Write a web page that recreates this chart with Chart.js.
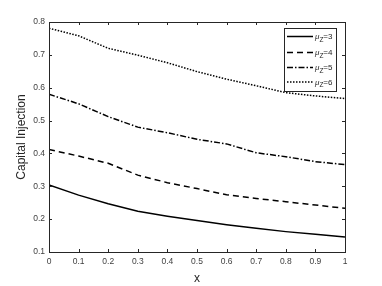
<!DOCTYPE html>
<html>
<head>
<meta charset="utf-8">
<script src="https://cdn.jsdelivr.net/npm/chart.js@4.4.0/dist/chart.umd.min.js"></script>
<style>
html,body{margin:0;padding:0;background:#fff;}
#wrap{width:382px;height:286px;}
</style>
</head>
<body>
<div id="wrap"><canvas id="c" width="382" height="286"></canvas></div>
<script>
const xValues = [0, 0.1, 0.2, 0.3, 0.4, 0.5, 0.6, 0.7, 0.8, 0.9, 1.0];
const mu3 = [0.304, 0.273, 0.247, 0.224, 0.209, 0.196, 0.183, 0.172, 0.162, 0.154, 0.146];
const mu4 = [0.412, 0.392, 0.370, 0.334, 0.311, 0.293, 0.274, 0.263, 0.253, 0.243, 0.233];
const mu5 = [0.580, 0.551, 0.512, 0.480, 0.463, 0.443, 0.429, 0.402, 0.390, 0.375, 0.366];
const mu6 = [0.781, 0.758, 0.720, 0.699, 0.676, 0.649, 0.626, 0.606, 0.585, 0.575, 0.567];
const seriesNames = ['3', '4', '5', '6'];
const dashes = [[], [6, 4], [6, 2, 1.5, 2], [1.5, 1.5]];
const xTicks = [0, 0.1, 0.2, 0.3, 0.4, 0.5, 0.6, 0.7, 0.8, 0.9, 1];
const yTicks = [0.1, 0.2, 0.3, 0.4, 0.5, 0.6, 0.7, 0.8];

const allSeries = [mu3, mu4, mu5, mu6];
const datasets = allSeries.map((s, i) => ({
  label: 'μZ=' + seriesNames[i],
  data: xValues.map((x, j) => ({x: x, y: s[j]})),
  borderColor: '#000',
  borderWidth: 1.5,
  borderDash: dashes[i],
  pointRadius: 0,
  fill: false,
  tension: 0
}));

const axisColor = '#262626';
const fontFam = '"Liberation Sans", Arial, Helvetica, sans-serif';

const boxPlugin = {
  id: 'box',
  afterDraw(chart) {
    const ctx = chart.ctx;
    const a = chart.chartArea;
    const xs = chart.scales.x, ys = chart.scales.y;
    ctx.save();
    ctx.strokeStyle = axisColor;
    ctx.lineWidth = 1;
    ctx.setLineDash([]);
    ctx.strokeRect(Math.round(a.left) + 0.5, Math.round(a.top) + 0.5, Math.round(a.right - a.left), Math.round(a.bottom - a.top));
    const tl = 3;
    ctx.beginPath();
    xTicks.forEach(v => {
      const px = Math.round(xs.getPixelForValue(v)) + 0.5;
      ctx.moveTo(px, a.bottom); ctx.lineTo(px, a.bottom - tl);
      ctx.moveTo(px, a.top); ctx.lineTo(px, a.top + tl);
    });
    yTicks.forEach(v => {
      const py = Math.round(ys.getPixelForValue(v)) + 0.5;
      ctx.moveTo(a.left, py); ctx.lineTo(a.left + tl, py);
      ctx.moveTo(a.right, py); ctx.lineTo(a.right - tl, py);
    });
    ctx.stroke();

    // legend
    const lx = 284, ly = 28, lw = 52, lh = 63;
    ctx.fillStyle = '#fff';
    ctx.fillRect(lx, ly, lw, lh);
    ctx.strokeStyle = axisColor;
    ctx.strokeRect(lx + 0.5, ly + 0.5, lw, lh);
    const rowY = [36.5, 52.5, 67.5, 82];
    seriesNames.forEach((n, i) => {
      const y = rowY[i];
      ctx.beginPath();
      ctx.strokeStyle = '#000';
      ctx.lineWidth = 1.5;
      ctx.setLineDash(dashes[i]);
      ctx.moveTo(287, y); ctx.lineTo(313, y);
      ctx.stroke();
      ctx.setLineDash([]);
      ctx.fillStyle = axisColor;
      ctx.textBaseline = 'alphabetic';
      ctx.textAlign = 'left';
      ctx.font = 'italic 8px ' + fontFam;
      ctx.fillText('μ', 315, y + 2.5);
      const w1 = ctx.measureText('μ').width;
      ctx.font = '6.5px ' + fontFam;
      ctx.fillText('Z', 315 + w1, y + 5);
      const w2 = ctx.measureText('Z').width;
      ctx.font = '8px ' + fontFam;
      ctx.fillText('=' + n, 315 + w1 + w2, y + 2.5);
    });
    ctx.restore();
  }
};

new Chart(document.getElementById('c'), {
  type: 'line',
  data: { datasets },
  options: {
    responsive: false,
    animation: false,
    devicePixelRatio: 1,
    layout: { padding: { left: 0, right: 37, top: 22, bottom: 0 } },
    plugins: { legend: { display: false }, tooltip: { enabled: false } },
    scales: {
      x: {
        type: 'linear', min: 0, max: 1,
        afterBuildTicks: s => { s.ticks = xTicks.map(v => ({value: v})); },
        afterFit: s => { s.height = 34; },
        grid: { display: false, drawTicks: false },
        border: { display: false },
        ticks: {
          padding: 5, color: '#404040', maxRotation: 0, autoSkip: false,
          font: { family: fontFam, size: 8.5 },
          callback: v => String(Math.round(v * 10) / 10)
        },
        title: { display: true, text: 'x', color: axisColor, padding: { top: 2, bottom: 0 }, font: { family: fontFam, size: 12 } }
      },
      y: {
        type: 'linear', min: 0.1, max: 0.8,
        afterBuildTicks: s => { s.ticks = yTicks.map(v => ({value: v})); },
        afterFit: s => { s.width = 49; },
        grid: { display: false, drawTicks: false },
        border: { display: false },
        ticks: {
          padding: 4, color: '#404040', autoSkip: false,
          font: { family: fontFam, size: 8.5 },
          callback: v => (Math.round(v * 10) / 10).toFixed(1)
        },
        title: { display: true, text: 'Capital Injection', color: axisColor, padding: { top: 14, bottom: 0 }, font: { family: fontFam, size: 12 } }
      }
    }
  },
  plugins: [boxPlugin]
});
</script>
</body>
</html>
